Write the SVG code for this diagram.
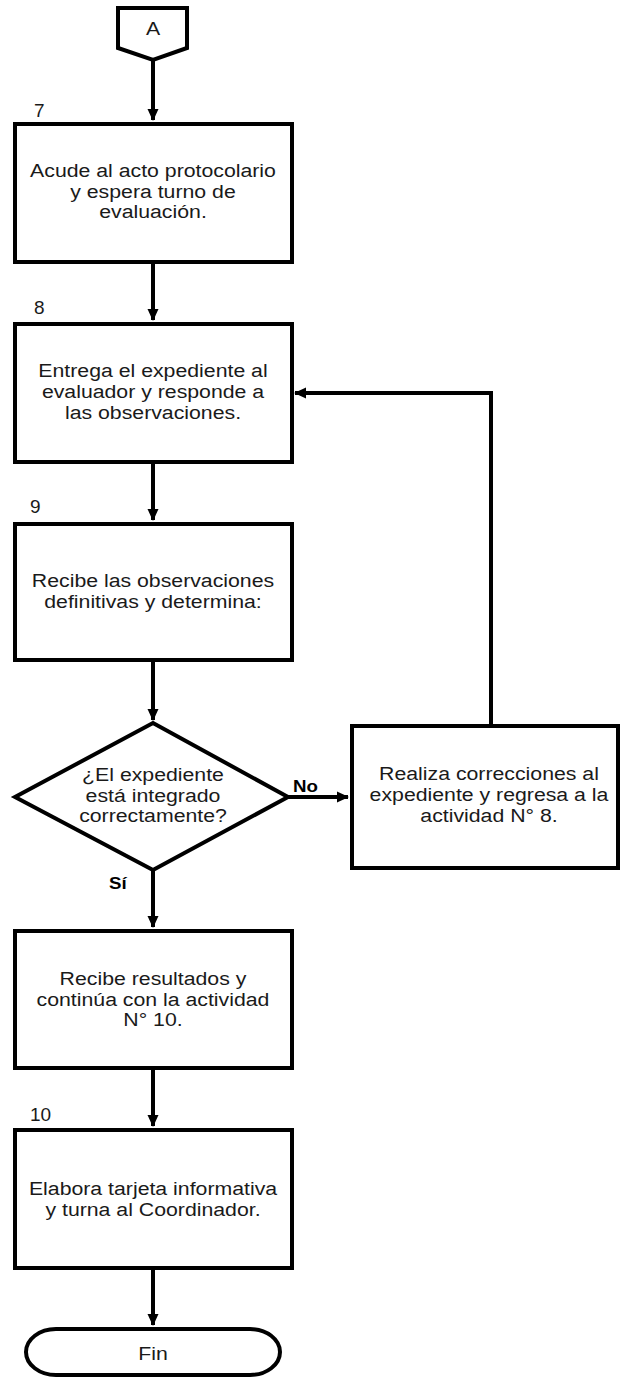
<svg xmlns="http://www.w3.org/2000/svg" width="621" height="1378" viewBox="0 0 621 1378">
<defs>
<style>
.s{fill:#fff;stroke:#000;stroke-width:4;stroke-linejoin:miter}
.t{font-family:"Liberation Sans",Arial,sans-serif;font-size:19px;fill:#1a1a1a;text-anchor:middle}
.n{font-family:"Liberation Sans",Arial,sans-serif;font-size:19px;fill:#1a1a1a}
.b{font-family:"Liberation Sans",Arial,sans-serif;font-size:17px;font-weight:bold;fill:#000}
.c{fill:none;stroke:#000;stroke-width:4}
</style>
<marker id="ar" markerWidth="12" markerHeight="13" viewBox="0 0 13 12" refX="12" refY="6" orient="auto" markerUnits="userSpaceOnUse">
<path d="M0,0 L13,6 L0,12 Z" fill="#000"/>
</marker>
</defs>
<rect width="621" height="1378" fill="#fff"/>
<g id="connectors">
<path class="c" d="M153,60 V120" marker-end="url(#ar)"/>
<path class="c" d="M153,262 V320" marker-end="url(#ar)"/>
<path class="c" d="M153,462 V520" marker-end="url(#ar)"/>
<path class="c" d="M153,660 V720" marker-end="url(#ar)"/>
<path class="c" d="M288,797 H348" marker-end="url(#ar)"/>
<path class="c" d="M491,725 V393 H295" marker-end="url(#ar)"/>
<path class="c" d="M153,870 V927" marker-end="url(#ar)"/>
<path class="c" d="M153,1068 V1126" marker-end="url(#ar)"/>
<path class="c" d="M153,1268 V1325" marker-end="url(#ar)"/>
<text class="b" transform="translate(293 792) scale(1.1 1)">No</text>
<text class="b" transform="translate(109 889) scale(1.1 1)">Sí</text>
</g>
<g id="start">
<path class="s" d="M118,8 H187 V48 L153,60 L118,48 Z"/>
<text class="t" transform="translate(153 35) scale(1.12 1)">A</text>
</g>
<g id="n7">
<text class="n" x="34" y="117">7</text>
<rect class="s" x="15" y="124" width="277" height="138"/>
<g transform="translate(153 0) scale(1.12 1)">
<text class="t" x="0" y="177">Acude al acto protocolario</text>
<text class="t" x="0" y="198">y espera turno de</text>
<text class="t" x="0" y="218">evaluación.</text>
</g>
</g>
<g id="n8">
<text class="n" x="34" y="314">8</text>
<rect class="s" x="15" y="324" width="277" height="138"/>
<g transform="translate(153 0) scale(1.12 1)">
<text class="t" x="0" y="377">Entrega el expediente al</text>
<text class="t" x="0" y="398">evaluador y responde a</text>
<text class="t" x="0" y="419">las observaciones.</text>
</g>
</g>
<g id="n9">
<text class="n" x="30" y="513">9</text>
<rect class="s" x="15" y="524" width="277" height="136"/>
<g transform="translate(153 0) scale(1.12 1)">
<text class="t" x="0" y="587">Recibe las observaciones</text>
<text class="t" x="0" y="608">definitivas y determina:</text>
</g>
</g>
<g id="decision">
<path class="s" d="M153,723 L288,797 L153,870 L15,797 Z"/>
<g transform="translate(153 0) scale(1.12 1)">
<text class="t" x="0" y="781">¿El expediente</text>
<text class="t" x="0" y="802">está integrado</text>
<text class="t" x="0" y="822">correctamente?</text>
</g>
</g>
<g id="correccion">
<rect class="s" x="352" y="726" width="266" height="142"/>
<g transform="translate(489 0) scale(1.12 1)">
<text class="t" x="0" y="780">Realiza correcciones al</text>
<text class="t" x="0" y="801">expediente y regresa a la</text>
<text class="t" x="0" y="822">actividad N° 8.</text>
</g>
</g>
<g id="resultados">
<rect class="s" x="15" y="931" width="277" height="137"/>
<g transform="translate(153 0) scale(1.12 1)">
<text class="t" x="0" y="985">Recibe resultados y</text>
<text class="t" x="0" y="1006">continúa con la actividad</text>
<text class="t" x="0" y="1026">N° 10.</text>
</g>
</g>
<g id="n10">
<text class="n" x="30" y="1121">10</text>
<rect class="s" x="15" y="1130" width="277" height="138"/>
<g transform="translate(153 0) scale(1.12 1)">
<text class="t" x="0" y="1195">Elabora tarjeta informativa</text>
<text class="t" x="0" y="1216">y turna al Coordinador.</text>
</g>
</g>
<g id="fin">
<rect class="s" x="26" y="1329" width="254" height="46" rx="30" ry="23"/>
<text class="t" transform="translate(153 1360) scale(1.12 1)">Fin</text>
</g>
</svg>
